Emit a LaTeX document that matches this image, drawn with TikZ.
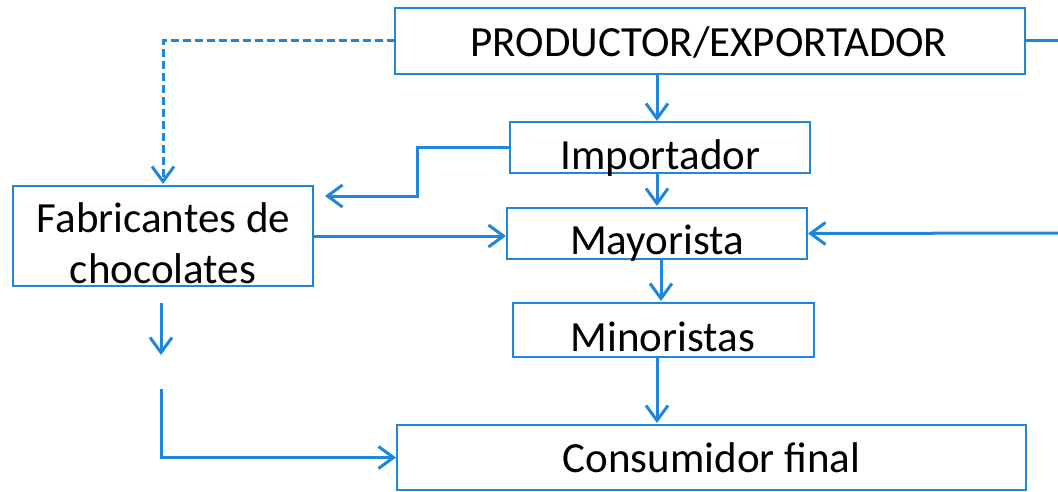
\documentclass[tikz,border=0pt]{standalone}
\usepackage{fontspec}
\setmainfont{Carlito}
\usetikzlibrary{arrows.meta,calc}
\definecolor{lblue}{RGB}{31,134,218}
\begin{document}
\begin{tikzpicture}[x=1pt,y=-1pt,
  box/.style={draw=lblue, line width=2.5pt, fill=white, inner sep=0pt, outer sep=0pt},
  txt/.style={anchor=base, inner sep=0pt, font=\fontsize{43}{51}\selectfont, text=black},
  conn/.style={draw=lblue, line width=3pt},
  arr/.style={conn, -{Straight Barb[length=15pt,width=22pt]}},
  dash line/.style={draw=lblue, line width=3pt, dash pattern=on 8pt off 4pt,
     -{Straight Barb[length=15pt,width=22pt,line width=3pt]}}]
\useasboundingbox (0,0) rectangle (1058,492);
% boxes
\node[box, minimum width=630pt, minimum height=66pt] (prod) at (710,41) {};
\node[box, minimum width=300pt, minimum height=51pt] (imp) at (660,147.5) {};
\node[box, minimum width=300pt, minimum height=51pt] (may) at (657,233.5) {};
\node[box, minimum width=301pt, minimum height=54pt] (min) at (663.5,330) {};
\node[box, minimum width=300pt, minimum height=100pt] (fab) at (163,236) {};
\node[box, minimum width=629pt, minimum height=65pt] (cons) at (711.5,457.5) {};
% texts
\node[txt] (tprod) at (709,57) {PRODUCTOR/EXPORTADOR};
\node[txt] (timp) at (660.5,170) {Importador};
\node[txt] (tmay) at (657,254) {Mayorista};
\node[txt] (tmin) at (663,351) {Minoristas};
\node[txt] (tfab1) at (163.5,233) {Fabricantes de};
\node[txt] (tfab2) at (163,283) {chocolates};
\node[txt] (tcons) at (711.5,472) {Consumidor final};
% free ends
\coordinate (rout) at (1058,41);
\coordinate (rin) at (1058,233);
\coordinate (bend) at (417,196);
\coordinate (fabin) at (325,196);
\coordinate (fd1) at (161,303);
\coordinate (fd2) at (161,355);
\coordinate (fd3) at (161,389);
% connectors
\draw[arr] (657,0 |- prod.south) -- (657,121);
\draw[arr] (may.north |- imp.south) -- (657,206);
\draw[arr] (661,0 |- may.south) -- (661,301);
\draw[arr] (657,0 |- min.south) -- (657,423);
\draw[conn] (prod.east) -- (rout);
\draw[arr] (rin) -- ($(may.east)+(1,0)$);
\draw[arr] (fab.east) -- ($(fab.east -| may.west)+(-1,0)$);
\draw[arr] (imp.west) -- (bend |- imp.west) -- (bend) -- (fabin);
\draw[dash line] (prod.west) -| ($(fab.north)+(0,-2)$);
\draw[arr] (fd1) -- (fd2);
\draw[arr] (fd3) |- ($(cons.west)+(-1,0)$);
\end{tikzpicture}
\end{document}
